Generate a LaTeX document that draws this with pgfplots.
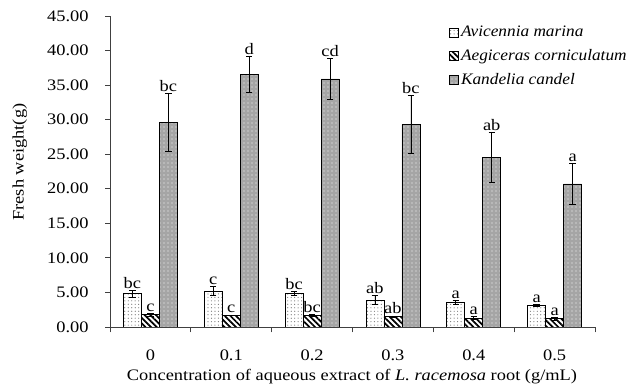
\documentclass[border=0pt]{standalone}
\usepackage{graphicx}
\usepackage{pgfplots}
\pgfplotsset{compat=1.18}
\usepackage{pgfplotstable}
\usepackage{fontspec}
\setmainfont{Liberation Serif}
\usetikzlibrary{patterns,patterns.meta}
\definecolor{kgray}{RGB}{165,165,165}
\definecolor{dotgray}{RGB}{120,120,120}
\newcommand\sx[1]{\scalebox{1.15}[1]{#1}}
\newcommand\lx[1]{\scalebox{1.08}[1]{#1}}

\pgfplotstableread{
x av averr ae aeerr kd kderr avl ael kdl
0 4.8 0.5 1.8 0.2 29.6 4.2 bc c bc
1 5.2 0.7 1.7 0.05 36.5 2.6 c c d
2 4.8 0.3 1.7 0.1 35.9 2.9 bc bc cd
3 3.9 0.6 1.5 0.1 29.3 4.2 ab ab bc
4 3.5 0.3 1.3 0.2 24.5 3.6 a a ab
5 3.1 0.1 1.2 0.2 20.7 2.9 a a a
}\data

\begin{document}
\begin{tikzpicture}[x=1pt,y=1pt]
\path (-82.5,-48) rectangle (393,245.25);
\begin{axis}[
  at={(0,0)}, anchor=south west,
  scale only axis, width=363.75pt, height=233.25pt,
  xmin=-0.5, xmax=5.5, ymin=0, ymax=45,
  axis lines*=left,
  axis line style={black!75, line width=0.7pt},
  ybar, bar width=13.5pt,
  xtick={0,...,5},
  xticklabels={\sx{0},\sx{0.1},\sx{0.2},\sx{0.3},\sx{0.4},\sx{0.5}},
  minor xtick={-0.5,0.5,...,5.5},
  major x tick style={draw=none},
  minor x tick style={black!75, line width=0.7pt},
  minor tick length=4pt,
  ytick={0,5,...,45},
  yticklabel={\sx{\pgfmathprintnumber{\tick}}},
  tick align=outside,
  major tick length=3.5pt,
  y tick style={black!75, line width=0.7pt},
  y tick label style={/pgf/number format/fixed, /pgf/number format/fixed zerofill, /pgf/number format/precision=2},
  /pgf/number format/assume math mode=true,
  tick label style={font=\fontsize{12}{14}\selectfont},
  xticklabel style={yshift=-10pt},
  yticklabel style={xshift=-9pt},
  xlabel={\sx{Concentration of aqueous extract of \textit{L. racemosa} root (g/mL)}},
  ylabel={\sx{Fresh weight(g)}},
  label style={font=\fontsize{12}{14}\selectfont},
  xlabel style={at={(axis description cs:0.499,-0.158)}, anchor=center},
  ylabel style={at={(axis description cs:-0.186,0.53)}, anchor=center},
  legend style={draw=none, fill=none, at={(axis description cs:0.69,0.985)}, anchor=north west,
    font=\fontsize{12}{14}\selectfont\itshape, row sep=4pt},
  legend cell align=left,
  legend image code/.code={\draw[#1, line width=0.5pt] (0pt,-3.3pt) rectangle (6.6pt,3.3pt);},
  error bars/error bar style={black, line width=0.6pt, solid},
  error bars/error mark options={rotate=90, mark size=2.4pt, black, line width=0.6pt},
  nodes near coords style={font=\fontsize{12}{14}\selectfont, anchor=south, inner sep=1.2pt, black},
]
\addplot[bar shift=-13.5pt, draw=black, line width=0.5pt, fill=white,
  postaction={pattern={Dots[distance=2.6pt, radius=0.45pt]}, pattern color=dotgray},
  error bars/.cd, y dir=both, y explicit]
  table[x=x, y=av, y error=averr]{\data};
\addlegendentry{\lx{Avicennia marina}}
\addplot[bar shift=0pt, draw=black, line width=0.5pt, fill=white,
  postaction={pattern={Lines[angle=-45, distance=3pt, line width=1.3pt]}, pattern color=black},
  error bars/.cd, y dir=both, y explicit]
  table[x=x, y=ae, y error=aeerr]{\data};
\addlegendentry{\lx{Aegiceras corniculatum}}
\addplot[bar shift=13.5pt, draw=black, line width=0.5pt, fill=kgray,
  postaction={pattern={Dots[distance=3pt, radius=0.5pt]}, pattern color=white!92!kgray},
  error bars/.cd, y dir=both, y explicit]
  table[x=x, y=kd, y error=kderr]{\data};
\addlegendentry{\lx{Kandelia candel}}

\addplot[forget plot, bar shift=-13.5pt, draw=none, fill=none, nodes near coords={\sx{\pgfplotspointmeta}}, point meta=explicit symbolic]
  table[x=x, y expr=\thisrow{av}+\thisrow{averr}, meta=avl]{\data};
\addplot[forget plot, bar shift=0pt, draw=none, fill=none, nodes near coords={\sx{\pgfplotspointmeta}}, point meta=explicit symbolic]
  table[x=x, y expr=\thisrow{ae}+\thisrow{aeerr}, meta=ael]{\data};
\addplot[forget plot, bar shift=13.5pt, draw=none, fill=none, nodes near coords={\sx{\pgfplotspointmeta}}, point meta=explicit symbolic]
  table[x=x, y expr=\thisrow{kd}+\thisrow{kderr}, meta=kdl]{\data};
\end{axis}
\end{tikzpicture}
\end{document}
